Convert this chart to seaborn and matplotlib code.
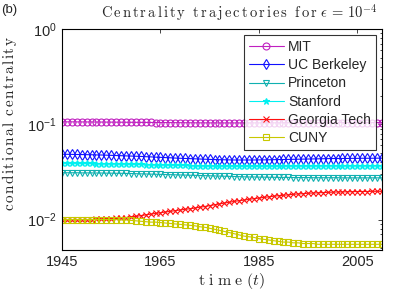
import matplotlib
matplotlib.use("Agg")
import matplotlib.pyplot as plt
import seaborn as sns
import numpy as np
from matplotlib.ticker import LogLocator, FixedLocator, NullLocator

years = list(range(1945, 2011))

mit = [0.1060, 0.1060, 0.1060, 0.1059, 0.1058, 0.1058, 0.1057, 0.1056, 0.1055, 0.1054,
       0.1053, 0.1052, 0.1051, 0.1050, 0.1049, 0.1048, 0.1047, 0.1046, 0.1045, 0.1044,
       0.1043, 0.1042, 0.1041, 0.1040, 0.1039, 0.1038, 0.1037, 0.1036, 0.1035, 0.1035,
       0.1034, 0.1034, 0.1033, 0.1033, 0.1033, 0.1033, 0.1033, 0.1033, 0.1033, 0.1034,
       0.1034, 0.1034, 0.1035, 0.1035, 0.1036, 0.1036, 0.1037, 0.1037, 0.1038, 0.1038,
       0.1039, 0.1039, 0.1039, 0.1040, 0.1040, 0.1040, 0.1040, 0.1041, 0.1041, 0.1041,
       0.1041, 0.1041, 0.1042, 0.1042, 0.1042, 0.1042]

berkeley = [0.0485, 0.0484, 0.0483, 0.0482, 0.0481, 0.0480, 0.0479, 0.0477, 0.0476, 0.0474,
            0.0472, 0.0470, 0.0468, 0.0466, 0.0464, 0.0462, 0.0460, 0.0457, 0.0455, 0.0452,
            0.0450, 0.0447, 0.0445, 0.0442, 0.0440, 0.0438, 0.0436, 0.0434, 0.0432, 0.0430,
            0.0428, 0.0426, 0.0425, 0.0424, 0.0423, 0.0422, 0.0422, 0.0422, 0.0422, 0.0422,
            0.0423, 0.0423, 0.0424, 0.0425, 0.0426, 0.0427, 0.0428, 0.0429, 0.0430, 0.0431,
            0.0432, 0.0433, 0.0434, 0.0435, 0.0436, 0.0437, 0.0437, 0.0438, 0.0438, 0.0439,
            0.0439, 0.0440, 0.0440, 0.0440, 0.0441, 0.0441]

princeton = [0.0310, 0.0310, 0.0310, 0.0310, 0.0309, 0.0309, 0.0309, 0.0308, 0.0308, 0.0307,
             0.0307, 0.0306, 0.0306, 0.0305, 0.0304, 0.0303, 0.0302, 0.0301, 0.0300, 0.0299,
             0.0298, 0.0297, 0.0296, 0.0295, 0.0294, 0.0293, 0.0292, 0.0291, 0.0290, 0.0289,
             0.0288, 0.0287, 0.0286, 0.0285, 0.0284, 0.0283, 0.0282, 0.0281, 0.0280, 0.0280,
             0.0279, 0.0279, 0.0278, 0.0278, 0.0277, 0.0277, 0.0277, 0.0276, 0.0276, 0.0276,
             0.0276, 0.0275, 0.0275, 0.0275, 0.0275, 0.0275, 0.0275, 0.0274, 0.0274, 0.0274,
             0.0274, 0.0274, 0.0274, 0.0274, 0.0274, 0.0274]

stanford = [0.0390, 0.0390, 0.0390, 0.0389, 0.0389, 0.0388, 0.0388, 0.0387, 0.0387, 0.0386,
            0.0385, 0.0384, 0.0383, 0.0382, 0.0381, 0.0380, 0.0379, 0.0378, 0.0377, 0.0376,
            0.0375, 0.0374, 0.0373, 0.0372, 0.0371, 0.0370, 0.0369, 0.0368, 0.0367, 0.0366,
            0.0365, 0.0364, 0.0364, 0.0363, 0.0363, 0.0362, 0.0362, 0.0362, 0.0362, 0.0362,
            0.0362, 0.0362, 0.0363, 0.0363, 0.0363, 0.0364, 0.0364, 0.0364, 0.0365, 0.0365,
            0.0365, 0.0366, 0.0366, 0.0366, 0.0367, 0.0367, 0.0367, 0.0367, 0.0368, 0.0368,
            0.0368, 0.0368, 0.0368, 0.0369, 0.0369, 0.0369]

georgia_tech = [0.0100, 0.0100, 0.0100, 0.0100, 0.0100, 0.0100, 0.0100, 0.0101, 0.0101, 0.0102,
                0.0102, 0.0103, 0.0104, 0.0105, 0.0107, 0.0108, 0.0110, 0.0112, 0.0114, 0.0116,
                0.0118, 0.0120, 0.0122, 0.0124, 0.0126, 0.0128, 0.0130, 0.0132, 0.0135, 0.0137,
                0.0140, 0.0143, 0.0146, 0.0149, 0.0152, 0.0155, 0.0158, 0.0160, 0.0163, 0.0166,
                0.0168, 0.0171, 0.0173, 0.0176, 0.0178, 0.0180, 0.0182, 0.0184, 0.0186, 0.0187,
                0.0189, 0.0190, 0.0191, 0.0192, 0.0193, 0.0194, 0.0195, 0.0195, 0.0196, 0.0196,
                0.0197, 0.0197, 0.0197, 0.0198, 0.0198, 0.0198]

cuny = [0.0100, 0.0100, 0.0100, 0.0100, 0.0100, 0.0100, 0.0100, 0.0100, 0.0100, 0.0100,
        0.0100, 0.0100, 0.0099, 0.0099, 0.0098, 0.0097, 0.0096, 0.0095, 0.0094, 0.0094,
        0.0093, 0.0092, 0.0091, 0.0090, 0.0089, 0.0088, 0.0087, 0.0086, 0.0084, 0.0083,
        0.0081, 0.0079, 0.0077, 0.0075, 0.0073, 0.0071, 0.0069, 0.0067, 0.0066, 0.0065,
        0.0063, 0.0062, 0.0061, 0.0060, 0.0059, 0.0058, 0.0058, 0.0057, 0.0057, 0.0056,
        0.0056, 0.0056, 0.0055, 0.0055, 0.0055, 0.0055, 0.0055, 0.0055, 0.0055, 0.0055,
        0.0055, 0.0055, 0.0055, 0.0055, 0.0055, 0.0055]

labels = ["MIT", "UC Berkeley", "Princeton", "Stanford", "Georgia Tech", "CUNY"]
series = [mit, berkeley, princeton, stanford, georgia_tech, cuny]
colors = ["#c020c0", "#1010ff", "#10b0b0", "#00f0f0", "#ff1010", "#c8c800"]
markers = ["o", "d", "v", "*", "x", "s"]
filled = [False, False, False, True, True, False]


def spaced(text, sp=0.12):
    # crude letter spacing for the serif labels
    parts = [r"\ " if ch == " " else ch for ch in text]
    return (r"\hspace{%s}" % sp).join(parts)


sns.set_theme(style="white")
plt.rcParams["font.family"] = ["Liberation Sans", "DejaVu Sans"]
plt.rcParams["mathtext.fontset"] = "custom"
plt.rcParams["mathtext.rm"] = "Liberation Sans"
plt.rcParams["mathtext.it"] = "Liberation Sans:italic"
plt.rcParams["xtick.direction"] = "in"
plt.rcParams["ytick.direction"] = "in"

fig = plt.figure(figsize=(4.11, 2.93), dpi=100)
ax = fig.add_axes([0.151, 0.147, 0.778, 0.754])

for lab, vals, col, mk, fil in zip(labels, series, colors, markers, filled):
    sns.lineplot(x=years, y=vals, ax=ax, color=col, marker=mk, label=lab,
                 linewidth=0.8, markersize=5,
                 markerfacecolor=col if fil else "none", markeredgecolor=col,
                 markeredgewidth=0.8)

ax.set_yscale("log")
ax.set_xlim(1945, 2010)
ax.set_ylim(0.0048, 1)
ax.xaxis.set_major_locator(FixedLocator([1945, 1965, 1985, 2005]))
ax.xaxis.set_minor_locator(NullLocator())
ax.yaxis.set_major_locator(LogLocator(base=10, numticks=10))
ax.yaxis.set_minor_locator(LogLocator(base=10, subs=np.arange(2, 10), numticks=10))
ax.tick_params(axis="both", which="both", top=True, right=True, labelsize=10.5,
               length=3, width=0.6, pad=4)
ax.tick_params(axis="both", which="minor", length=1.8)
for s in ax.spines.values():
    s.set_linewidth(0.8)
    s.set_color("black")

ax.set_xlabel(r"$\mathrm{%s\ (}t\mathrm{)}$" % spaced("time", 0.3),
              math_fontfamily="cm", fontsize=11.5, labelpad=0)
ax.xaxis.set_label_coords(0.53, -0.095)
ax.set_ylabel(r"$\mathrm{%s}$" % spaced("conditional centrality", 0.11),
              math_fontfamily="cm", fontsize=11)
ax.yaxis.set_label_coords(-0.135, 0.57)
ax.set_title(r"$\mathrm{%s\ }\epsilon\,=\,10^{-4}$" % spaced("Centrality trajectories for", 0.16),
             math_fontfamily="cm", fontsize=10.5, pad=8, loc="right", x=0.985)
fig.text(0.002, 0.965, "(b)", fontsize=9.5, ha="left", va="center")

leg = ax.legend(loc="upper right", fontsize=10, frameon=True, fancybox=False,
                borderaxespad=0.45, handlelength=2.5, handletextpad=0.3,
                labelspacing=0.3, borderpad=0.35)
leg.get_frame().set_edgecolor("black")
leg.get_frame().set_linewidth(0.8)

fig.savefig("out.png", dpi=100)
